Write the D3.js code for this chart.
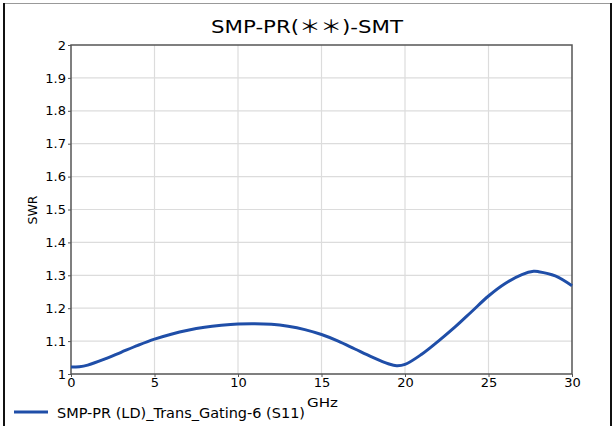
<!DOCTYPE html>
<html><head><meta charset="utf-8">
<script src="https://cdn.jsdelivr.net/npm/d3@7"></script>
<style>body{margin:0;background:#fff;}svg{display:block;}text{font-family:"DejaVu Sans","Noto Sans CJK JP",sans-serif;fill:#000;}</style>
</head><body>
<script>
const title = "SMP-PR(＊＊)-SMT";
const xLabel = "GHz";
const yLabel = "SWR";
const seriesName = "SMP-PR (LD)_Trans_Gating-6 (S11)";
const xTicks = [0,5,10,15,20,25,30];
const yTicks = [1,1.1,1.2,1.3,1.4,1.5,1.6,1.7,1.8,1.9,2];
const freq = [0,0.5,1,2,3,4,5,6,7,8,9,10,11,12,13,14,15,16,17,18,19,19.5,20,21,22,23,24,25,26,27,27.7,28,29,30];
const swr  = [1.021,1.022,1.027,1.045,1.066,1.087,1.106,1.121,1.133,1.142,1.148,1.152,1.153,1.151,1.145,1.135,1.12,1.10,1.076,1.052,1.031,1.025,1.029,1.06,1.10,1.143,1.19,1.237,1.275,1.302,1.312,1.311,1.298,1.268];

const W=613,H=426;
const m={l:71,r:572,t:45,b:374};
const svg=d3.select("body").append("svg").attr("width",W).attr("height",H);
svg.append("line").attr("x1",4).attr("x2",611).attr("y1",3.5).attr("y2",3.5).attr("stroke","#999").attr("stroke-width",1.2);
svg.append("line").attr("x1",4).attr("x2",4).attr("y1",3).attr("y2",H).attr("stroke","#111").attr("stroke-width",2);
svg.append("line").attr("x1",611).attr("x2",611).attr("y1",3).attr("y2",H).attr("stroke","#111").attr("stroke-width",2);

const x=d3.scaleLinear().domain([0,30]).range([m.l,m.r]);
const y=d3.scaleLinear().domain([1,2]).range([m.b,m.t]);

svg.append("g").selectAll("line").data(xTicks.slice(1,-1)).join("line")
 .attr("x1",d=>x(d)).attr("x2",d=>x(d)).attr("y1",m.t).attr("y2",m.b).attr("stroke","#dcdcdc").attr("stroke-width",1.2);
svg.append("g").selectAll("line").data(yTicks.slice(1,-1)).join("line")
 .attr("x1",m.l).attr("x2",m.r).attr("y1",d=>y(d)).attr("y2",d=>y(d)).attr("stroke","#dcdcdc").attr("stroke-width",1.2);

const xa=svg.append("g").attr("transform",`translate(0,${m.b})`)
 .call(d3.axisBottom(x).tickValues(xTicks).tickSize(3).tickPadding(1).tickFormat(d3.format("d")));
const ya=svg.append("g").attr("transform",`translate(${m.l},0)`)
 .call(d3.axisLeft(y).tickValues(yTicks).tickSize(3).tickPadding(2).tickFormat(d=>d3.format("")(+d.toFixed(1))));
[xa,ya].forEach(g=>{g.select(".domain").remove();g.selectAll("line").attr("stroke","#555");g.selectAll("text").style("font-size","13px").attr("fill","#000");});
svg.append("rect").attr("x",m.l).attr("y",m.t).attr("width",m.r-m.l).attr("height",m.b-m.t)
 .attr("fill","none").attr("stroke","#555").attr("stroke-width",1.5);

const line=d3.line().x((d,i)=>x(freq[i])).y(d=>y(d)).curve(d3.curveCatmullRom.alpha(0.5));
svg.append("path").datum(swr).attr("d",line).attr("fill","none").attr("stroke","#1f4ea8").attr("stroke-width",3);

svg.append("text").attr("x",211).attr("y",33).attr("textLength",192).attr("lengthAdjust","spacingAndGlyphs").style("font-size","18px").text(title);
svg.append("text").attr("transform","translate(37,210) rotate(-90)").attr("text-anchor","middle").style("font-size","12.5px").text(yLabel);
svg.append("text").attr("x",307).attr("y",407).attr("textLength",31).attr("lengthAdjust","spacingAndGlyphs").style("font-size","13px").text(xLabel);
svg.append("line").attr("x1",14).attr("x2",48).attr("y1",412).attr("y2",412).attr("stroke","#1f4ea8").attr("stroke-width",3);
svg.append("text").attr("x",57).attr("y",418).attr("textLength",248).attr("lengthAdjust","spacingAndGlyphs").style("font-size","13.5px").text(seriesName);
</script>
</body></html>
